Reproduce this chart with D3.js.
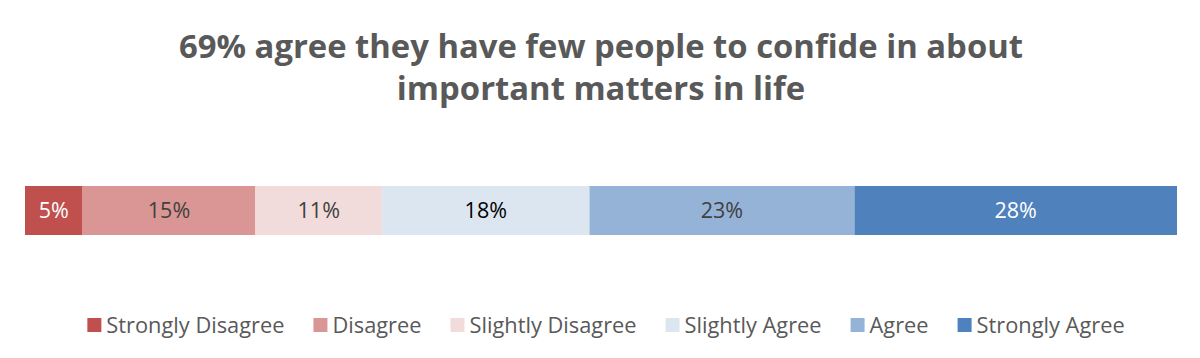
<!DOCTYPE html>
<html>
<head>
<meta charset="utf-8">
<script src="https://cdn.jsdelivr.net/npm/d3@7"></script>
<style>
  body { margin: 0; background: #fff; }
  text { font-family: "Open Sans", Lato, sans-serif; }
</style>
</head>
<body>
<div id="chart"></div>
<script>
// Chart data
const categories = ["Strongly Disagree", "Disagree", "Slightly Disagree", "Slightly Agree", "Agree", "Strongly Agree"];
const values = [5, 15, 11, 18, 23, 28];
const colors = ["#C0504D", "#DA9694", "#F2DCDB", "#DCE6F1", "#95B3D7", "#4F81BD"];
const labelColors = ["#ffffff", "#404040", "#404040", "#000000", "#404040", "#ffffff"];
const titleLines = ["69% agree they have few people to confide in about", "important matters in life"];

const width = 1200, height = 358;
const margin = { left: 25, right: 23 };

const svg = d3.select("#chart")
  .append("svg")
    .attr("width", width)
    .attr("height", height);

// Title
svg.append("g")
  .selectAll("text")
  .data(titleLines)
  .join("text")
    .attr("class", "title")
    .attr("x", width / 2 + 1)
    .attr("y", (d, i) => 58 + i * 42)
    .attr("text-anchor", "middle")
    .style("font-size", "32.8px")
    .style("font-weight", "bold")
    .style("fill", "#595959")
    .text(d => d);

// Stack the values
const data = values.map((v, i) => ({ cat: categories[i], value: v, start: d3.sum(values.slice(0, i)) }));

const x = d3.scaleLinear()
  .domain([0, d3.sum(values)])
  .range([margin.left, width - margin.right]);

const y = d3.scaleBand()
  .domain(["all"])
  .range([186, 235]);

// Bars
svg.selectAll("rect.seg")
  .data(data)
  .join("rect")
    .attr("class", "seg")
    .attr("x", d => x(d.start))
    .attr("y", y("all"))
    .attr("width", d => x(d.start + d.value) - x(d.start))
    .attr("height", y.bandwidth())
    .attr("fill", (d, i) => colors[i]);

// Labels
svg.selectAll("text.lbl")
  .data(data)
  .join("text")
    .attr("class", "lbl")
    .attr("x", d => x(d.start + d.value / 2))
    .attr("y", y("all") + y.bandwidth() / 2)
    .attr("dy", "0.35em")
    .attr("text-anchor", "middle")
    .style("font-size", "21.5px")
    .style("fill", (d, i) => labelColors[i])
    .text(d => d.value + "%");

// Legend, laid out from measured text widths
const legend = svg.append("g");
const items = legend.selectAll("g")
  .data(categories)
  .join("g");
items.append("rect")
  .attr("width", 14)
  .attr("height", 14)
  .attr("y", -7)
  .attr("fill", (d, i) => colors[i]);
items.append("text")
  .attr("x", 19)
  .attr("dy", "0.35em")
  .style("font-size", "21.8px")
  .style("fill", "#595959")
  .text(d => d);

const gap = 29;
let cursor = 0;
items.each(function() {
  const w = 19 + d3.select(this).select("text").node().getComputedTextLength();
  d3.select(this).attr("transform", `translate(${cursor},0)`);
  cursor += w + gap;
});
const total = cursor - gap;
legend.attr("transform", `translate(${(width - total) / 2 + 6},325)`);
</script>
</body>
</html>
